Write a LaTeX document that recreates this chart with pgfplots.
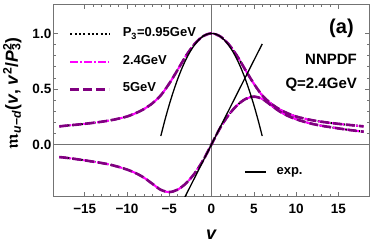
\documentclass[border=0pt]{standalone}
\usepackage{amsmath,amssymb}
\usepackage{fontspec}
\setmainfont{Liberation Sans}
\usepackage{pgfplots}
\usepackage{pgfplotstable}
\pgfplotsset{compat=1.18}
\definecolor{mpurple}{rgb}{0.5,0,0.5}
\definecolor{mmagenta}{rgb}{1,0,1}
\definecolor{framegray}{gray}{0.45}

\pgfplotstableread{
nu re im
-18 0.162 -0.114
-17 0.170 -0.123
-16 0.177 -0.133
-15 0.185 -0.144
-14 0.194 -0.156
-13 0.204 -0.168
-12 0.216 -0.183
-11 0.232 -0.203
-10 0.251 -0.227
-9 0.280 -0.258
-8 0.318 -0.300
-7 0.370 -0.355
-6 0.442 -0.410
-5 0.548 -0.430
-4 0.672 -0.408
-3 0.800 -0.350
-2 0.905 -0.262
-1 0.975 -0.145
0 1.000 0.000
1 0.975 0.145
2 0.905 0.262
3 0.800 0.350
4 0.672 0.408
5 0.548 0.430
6 0.442 0.410
7 0.370 0.355
8 0.318 0.300
9 0.280 0.258
10 0.251 0.227
11 0.232 0.203
12 0.216 0.183
13 0.204 0.168
14 0.194 0.156
15 0.185 0.144
16 0.177 0.133
17 0.170 0.123
18 0.162 0.114
}\model

\pgfplotstableread{
nu re
-6 0.0748
-5.5 0.2226
-5 0.3575
-4.5 0.4796
-4 0.5888
-3.5 0.6852
-3 0.7687
-2.5 0.8394
-2 0.8972
-1.5 0.9422
-1 0.9743
-0.5 0.9936
0 1.0
0.5 0.9936
1 0.9743
1.5 0.9422
2 0.8972
2.5 0.8394
3 0.7687
3.5 0.6852
4 0.5888
4.5 0.4796
5 0.3575
5.5 0.2226
6 0.0748
}\expre

\pgfplotstableread{
nu im
-3.2 -0.483
6 0.905
}\expim

\begin{document}
\begin{tikzpicture}
\useasboundingbox (-53.3pt,-50.5pt) rectangle (320.7pt,196.5pt);
\begin{axis}[
  at={(0pt,0pt)}, anchor=south west,
  scale only axis, width=316.4pt, height=192.5pt,
  xmin=-18.72, xmax=18.72, ymin=-0.47, ymax=1.265,
  xtick={-15,-10,-5,0,5,10,15},
  xticklabels={−15,−10,−5,0,5,10,15},
  ytick={0,0.5,1}, yticklabels={0.0,0.5,1.0},
  minor x tick num=4, minor y tick num=4,
  tick align=inside,
  major tick length=5pt, minor tick length=3pt,
  axis line style={framegray, line width=0.6pt},
  every tick/.style={framegray, line width=0.5pt},
  tick label style={font=\fontsize{13.5}{15}\selectfont\bfseries},
  xticklabel style={yshift=-4.5pt},
  yticklabel style={xshift=1.5pt},
  extra x ticks={0}, extra x tick labels={},
  extra y ticks={0}, extra y tick labels={},
  extra tick style={grid=major, major grid style={framegray, line width=0.6pt}, major tick length=0pt},
  xlabel={\textbf{\textit{v}}},
  xlabel style={font=\fontsize{18}{20}\selectfont, at={(axis description cs:0.5,0)}, anchor=center, yshift=-38.5pt},
  ylabel={\bfseries $\boldsymbol{\mathfrak{m}}$\textsubscript{\textit{u}−\textit{d}}(\textit{v}, \textit{v}\textsuperscript{2}/\textit{P}\rlap{\textsubscript{3}}\textsuperscript{2})},
  ylabel style={font=\fontsize{17.5}{19}\selectfont, at={(axis description cs:-0.1296,0.535)}, anchor=center},
  legend image code/.code={\draw[#1] (0pt,0pt) -- (39pt,0pt);},
  legend style={at={(axis description cs:0.0496,0.699)}, anchor=west, draw=none, fill=none, inner sep=0pt,
    row sep=17.5pt, column sep=12pt, font=\fontsize{13}{15}\selectfont\bfseries,
    nodes={inner sep=0pt, text height=0.75em, text depth=0.25em}},
  legend cell align=left,
]
\addplot[black, line width=2pt, dash pattern=on 2pt off 2.3pt, smooth] table[x=nu,y=re]{\model};
\addlegendentry{P\textsubscript{3}=0.95GeV}
\addplot[black, line width=2pt, dash pattern=on 2pt off 2.3pt, smooth, forget plot] table[x=nu,y=im]{\model};
\addplot[mmagenta, line width=2pt, dash pattern=on 8pt off 2pt on 2pt off 2pt, smooth] table[x=nu,y=re]{\model};
\addlegendentry{2.4GeV}
\addplot[mmagenta, line width=2pt, dash pattern=on 8pt off 2pt on 2pt off 2pt, smooth, forget plot] table[x=nu,y=im]{\model};
\addplot[mpurple, line width=2.6pt, dash pattern=on 9pt off 4pt, smooth] table[x=nu,y=re]{\model};
\addlegendentry{5GeV}
\addplot[mpurple, line width=2.6pt, dash pattern=on 9pt off 4pt, smooth, forget plot] table[x=nu,y=im]{\model};
\node[anchor=east, inner sep=0pt, font=\fontsize{20}{22}\selectfont\bfseries] at (axis description cs:0.950,0.875) {(a)};
\node[anchor=east, inner sep=0pt, font=\fontsize{15}{17}\selectfont\bfseries] at (axis description cs:0.960,0.714) {NNPDF};
\node[anchor=east, inner sep=0pt, font=\fontsize{15}{17}\selectfont\bfseries] at (axis description cs:0.960,0.579) {Q=2.4GeV};
\end{axis}
\begin{axis}[
  at={(0pt,0pt)}, anchor=south west,
  scale only axis, width=316.4pt, height=192.5pt,
  xmin=-18.72, xmax=18.72, ymin=-0.47, ymax=1.265,
  hide axis, clip=true,
  legend image code/.code={\draw[#1] (0pt,0pt) -- (21pt,0pt);},
  legend style={at={(axis description cs:0.603,0.127)}, anchor=west, draw=none, fill=none, inner sep=0pt,
    column sep=10pt, font=\fontsize{13}{15}\selectfont\bfseries,
    nodes={inner sep=0pt, text height=0.75em, text depth=0.25em}},
]
\addplot[black, line width=1.3pt, smooth] table[x=nu,y=re]{\expre};
\addlegendentry{exp.}
\addplot[black, line width=1.3pt, forget plot] table[x=nu,y=im]{\expim};
\end{axis}
\end{tikzpicture}
\end{document}
